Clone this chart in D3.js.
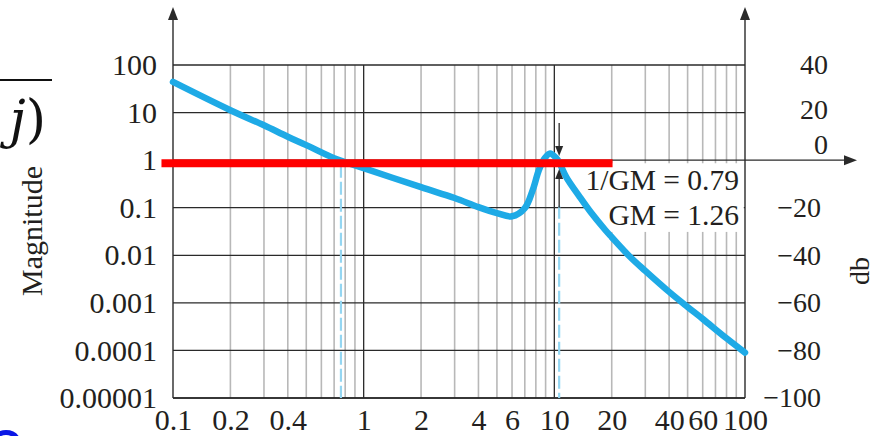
<!DOCTYPE html>
<html><head><meta charset="utf-8">
<script src="https://cdn.jsdelivr.net/npm/d3@7"></script>
<style>html,body{margin:0;padding:0;background:#fff;overflow:hidden}svg{display:block}</style>
</head><body>
<svg id="c" width="875" height="436"></svg>
<script>
// ---- data ----
const omega = [0.1, 0.2, 0.3, 0.4, 0.5, 0.7, 1, 2, 3, 4, 5, 6, 7, 7.7, 8.3, 8.9, 9.5, 10.2, 10.6, 11.55, 13.5, 15.5, 18.5, 20, 25, 30, 40, 50, 60, 80, 100];
const magnitude = [44, 11.2, 5.4, 3.1, 2.07, 1.1, 0.68, 0.27, 0.16, 0.103, 0.077, 0.066, 0.098, 0.234, 0.62, 1.1, 1.38, 1.12, 0.9, 0.44, 0.175, 0.081, 0.034, 0.024, 0.0092, 0.0047, 0.0017, 0.00082, 0.00046, 0.00018, 0.00009];
const xTicks = [0.1, 0.2, 0.4, 1, 2, 4, 6, 10, 20, 40, 60, 100];
const xTickLabels = ["0.1", "0.2", "0.4", "1", "2", "4", "6", "10", "20", "40", "60", "100"];
const magTicks = [100, 10, 1, 0.1, 0.01, 0.001, 0.0001, 0.00001];
const magTickLabels = ["100", "10", "1", "0.1", "0.01", "0.001", "0.0001", "0.00001"];
const dbTicks = [40, 20, 0, -20, -40, -60, -80, -100];
const crossoverFreqs = [0.76, 10.6];       // dashed verticals
const redLevel = 0.86, redSpan = [0.087, 20.2];
const gmLabels = ["1/GM = 0.79", "GM = 1.26"];

// ---- scales ----
const svg = d3.select("#c");
const L = 173, R = 745, T = 65, B = 398;
const x = d3.scaleLog().domain([0.1, 100]).range([L, R]);
const y = d3.scaleLog().domain([1e-5, 100]).range([B, T]);
const ydb = d3.scaleLinear().domain([-100, 40]).range([B, T]);
const serif = "'Liberation Serif','Times New Roman',serif";
const ink = "#231f20";

// minor vertical grid
const minor = [];
for (let d = 0.1; d < 100; d *= 10) for (let k = 2; k <= 9; k++) minor.push(+(d * k).toPrecision(3));
svg.append("g").selectAll("line").data(minor).join("line")
  .attr("x1", d => x(d)).attr("x2", d => x(d)).attr("y1", T).attr("y2", B)
  .attr("stroke", "#b8b8b8").attr("stroke-width", 1.6);
// major vertical grid
svg.append("g").selectAll("line").data([1, 10]).join("line")
  .attr("x1", d => x(d)).attr("x2", d => x(d)).attr("y1", T).attr("y2", B)
  .attr("stroke", "#2a2a2a").attr("stroke-width", 1.3);
// horizontal grid
svg.append("g").selectAll("line").data(magTicks).join("line")
  .attr("x1", L).attr("x2", R).attr("y1", d => y(d)).attr("y2", d => y(d))
  .attr("stroke", "#2a2a2a").attr("stroke-width", 1.3);

// white box behind annotation
svg.append("rect").attr("x", x(15.2)).attr("y", y(0.86)).attr("width", R - 1.2 - x(15.2))
  .attr("height", y(0.031) - y(0.86)).attr("fill", "#fff");

// frame / axes with arrows
const axisG = svg.append("g").attr("stroke", "#2a2a2a").attr("stroke-width", 1.4).attr("fill", "none");
axisG.append("line").attr("x1", L).attr("x2", L).attr("y1", B).attr("y2", 12);
axisG.append("line").attr("x1", R).attr("x2", R).attr("y1", B).attr("y2", 12);
axisG.append("line").attr("x1", L).attr("x2", R).attr("y1", B).attr("y2", B);
axisG.append("line").attr("x1", R).attr("x2", 850).attr("y1", ydb(0)).attr("y2", ydb(0));
const arrowG = svg.append("g").attr("fill", "#2a2a2a");
[L, R].forEach(ax => arrowG.append("path").attr("d", `M${ax},7 L${ax - 5},20 L${ax + 5},20 Z`));
arrowG.append("path").attr("d", `M857,${ydb(0)} L844,${ydb(0) - 5} L844,${ydb(0) + 5} Z`);

// curve
const line = d3.line().x(d => x(d[0])).y(d => y(d[1])).curve(d3.curveCatmullRom.alpha(0.5));
svg.append("path").datum(omega.map((w, i) => [w, magnitude[i]]))
  .attr("d", line).attr("fill", "none").attr("stroke", "#1eaae6")
  .attr("stroke-width", 6.5).attr("stroke-linejoin", "round").attr("stroke-linecap", "round");

// dashed crossover lines
svg.append("g").selectAll("line").data(crossoverFreqs).join("line")
  .attr("x1", d => x(d)).attr("x2", d => x(d))
  .attr("y1", (d, i) => i === 0 ? y(0.8) : y(0.11)).attr("y2", B)
  .attr("stroke", "#94d6f2").attr("stroke-width", 2.2).attr("stroke-dasharray", "13,4");

// red line
svg.append("line").attr("x1", x(redSpan[0])).attr("x2", x(redSpan[1]))
  .attr("y1", y(redLevel)).attr("y2", y(redLevel))
  .attr("stroke", "#ff0000").attr("stroke-width", 8);

// gain margin arrows
const gx = x(crossoverFreqs[1]);
const gm = svg.append("g");
gm.append("line").attr("x1", gx).attr("x2", gx).attr("y1", 123).attr("y2", 150).attr("stroke", "#2a2a2a").attr("stroke-width", 1.3);
gm.append("path").attr("d", `M${gx},156 L${gx - 4},146 L${gx + 4},146 Z`).attr("fill", "#2a2a2a");
gm.append("line").attr("x1", gx).attr("x2", gx).attr("y1", 175).attr("y2", y(0.1)).attr("stroke", "#2a2a2a").attr("stroke-width", 1.3);
gm.append("path").attr("d", `M${gx},169 L${gx - 4},179 L${gx + 4},179 Z`).attr("fill", "#2a2a2a");

// annotation texts
svg.append("g").selectAll("text").data(gmLabels).join("text")
  .attr("x", 739).attr("y", (d, i) => 190 + i * 35)
  .attr("text-anchor", "end").attr("font-family", serif).attr("font-size", 29.5)
  .attr("fill", ink).text(d => d);

// left magnitude axis labels
const leftAxis = d3.axisLeft(y).tickValues(magTicks).tickSize(0).tickPadding(0)
  .tickFormat((d, i) => magTickLabels[i]);
const la = svg.append("g").attr("transform", `translate(157,0)`).call(leftAxis);
la.select(".domain").remove();
la.selectAll("text").attr("font-family", serif).attr("font-size", 30).attr("fill", ink);

// bottom frequency axis labels
const bottomAxis = d3.axisBottom(x).tickValues(xTicks).tickSize(0).tickPadding(0)
  .tickFormat((d, i) => xTickLabels[i]);
const ba = svg.append("g").attr("transform", `translate(0,409)`).call(bottomAxis);
ba.select(".domain").remove();
ba.selectAll("text").attr("font-family", serif).attr("font-size", 30).attr("fill", ink);

// right dB axis labels
const rightAxis = d3.axisLeft(ydb).tickValues(dbTicks).tickSize(0).tickPadding(0)
  .tickFormat(d => d < 0 ? "\u2212" + Math.abs(d) : String(d));
const ra = svg.append("g").attr("transform", `translate(828,0)`).call(rightAxis);
ra.select(".domain").remove();
ra.selectAll("text").attr("font-family", serif).attr("font-size", 28).attr("fill", ink)
  .attr("x", d => d < 0 ? -7 : 0)
  .attr("dy", d => d === 0 ? "-0.22em" : (d === 20 ? "0.2em" : "0.32em"));

// axis titles
svg.append("text").attr("transform", "translate(42,231) rotate(-90)").attr("text-anchor", "middle")
  .attr("font-family", serif).attr("font-size", 30).attr("fill", ink).text("Magnitude");
svg.append("text").attr("transform", "translate(869,271) rotate(-90)").attr("text-anchor", "middle")
  .attr("font-family", serif).attr("font-size", 28).attr("fill", ink).text("db");

// cropped fragments at the edges
svg.append("line").attr("x1", 0).attr("x2", 52).attr("y1", 80).attr("y2", 80).attr("stroke", "#111").attr("stroke-width", 2);
svg.append("text").attr("x", 46).attr("y", 137).attr("text-anchor", "end")
  .attr("font-family", "'DejaVu Serif',serif").attr("font-size", 52).attr("fill", "#111")
  .html('<tspan font-style="italic">j</tspan>)');
svg.append("path").attr("d", "M-6,440 A13,12 0 0 1 18,440").attr("fill", "none")
  .attr("stroke", "#0a17e6").attr("stroke-width", 5);
</script>
</body></html>
